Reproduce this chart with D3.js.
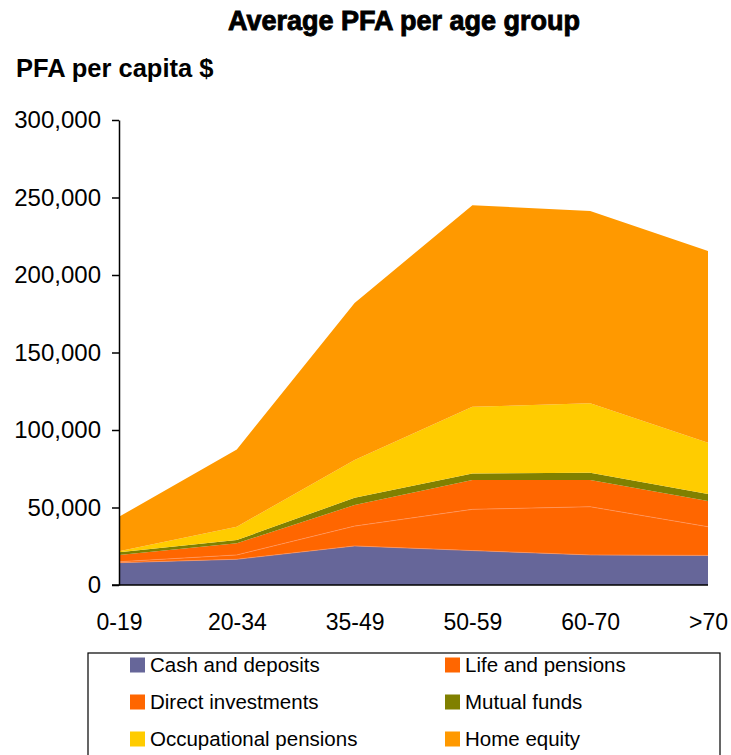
<!DOCTYPE html>
<html>
<head>
<meta charset="utf-8">
<script src="https://cdn.jsdelivr.net/npm/d3@7"></script>
<style>
  html, body { margin: 0; padding: 0; background: #fff; }
  svg { display: block; }
  text { font-family: "Liberation Sans", Arial, sans-serif; }
</style>
</head>
<body>
<svg id="chart" width="731" height="755"></svg>
<script>
// ---- Data ----
const categories = ["0-19", "20-34", "35-49", "50-59", "60-70", ">70"];
const seriesNames = ["Cash and deposits", "Life and pensions", "Direct investments", "Mutual funds", "Occupational pensions", "Home equity"];
const cashDeposits   = [14400, 16600, 25200, 22200, 19400, 19100];
const lifePensions   = [600, 2800, 12800, 26600, 31100, 18500];
const directInvest   = [4400, 7500, 13600, 18900, 17200, 16600];
const mutualFunds    = [1700, 2100, 4700, 4300, 4800, 4500];
const occupational   = [600, 8600, 24300, 43000, 44700, 33100];
const homeEquity     = [22300, 49900, 101400, 130000, 124100, 123700];
const yTicks = [0, 50000, 100000, 150000, 200000, 250000, 300000];
const colors = ["#666699", "#FF6600", "#FF6600", "#808000", "#FFCC00", "#FF9900"];

const seriesValues = [cashDeposits, lifePensions, directInvest, mutualFunds, occupational, homeEquity];
const rows = categories.map((c, i) => {
  const r = { cat: c };
  seriesNames.forEach((s, k) => r[s] = seriesValues[k][i]);
  return r;
});

const svg = d3.select("#chart");

const x = d3.scalePoint().domain(categories).range([119, 708]);
const y = d3.scaleLinear().domain([0, 300000]).range([585, 120]);

const stack = d3.stack().keys(seriesNames).order(d3.stackOrderNone).offset(d3.stackOffsetNone);
const layers = stack(rows);

const area = d3.area()
  .x(d => x(d.data.cat))
  .y0(d => y(d[0]))
  .y1(d => y(d[1]));

svg.append("g").selectAll("path")
  .data(layers)
  .join("path")
  .attr("d", area)
  .attr("fill", (d, i) => colors[i]);

// faint seam lines between the lower layers
const seam = d3.line().x(d => x(d.data.cat)).y(d => y(d[1]));
[0, 1].forEach(i => {
  svg.append("path")
    .attr("d", seam(layers[i]))
    .attr("fill", "none")
    .attr("stroke", "#FF9966")
    .attr("stroke-width", 0.8)
    .attr("opacity", 0.8);
});

// ---- Axes ----
const yAxis = d3.axisLeft(y).tickValues(yTicks).tickSize(7).tickSizeOuter(0)
  .tickFormat(d3.format(","));
const gy = svg.append("g").attr("transform", "translate(119,0)").call(yAxis);
gy.select(".domain").attr("stroke", "#000").attr("stroke-width", 1.5);
gy.selectAll(".tick line").attr("stroke", "#000").attr("stroke-width", 1.5);
gy.selectAll(".tick text")
  .attr("x", -18)
  .attr("font-size", 24)
  .attr("font-family", "Liberation Sans, Arial, sans-serif")
  .attr("fill", "#000");

const xAxis = d3.axisBottom(x).tickSize(0).tickSizeOuter(0);
const gx = svg.append("g").attr("transform", "translate(0,585)").call(xAxis);
gx.select(".domain").attr("stroke", "#000").attr("stroke-width", 1.5)
  .attr("d", "M112,0H708");
gx.selectAll(".tick text")
  .attr("y", 29)
  .attr("dy", "0.71em")
  .attr("font-size", 23)
  .attr("font-family", "Liberation Sans, Arial, sans-serif")
  .attr("fill", "#000");

// ---- Titles ----
svg.append("text")
  .attr("x", 404).attr("y", 30)
  .attr("text-anchor", "middle")
  .attr("font-size", 27)
  .attr("font-weight", "bold")
  .attr("stroke", "#000").attr("stroke-width", 0.9)
  .text("Average PFA per age group");

svg.append("text")
  .attr("x", 16).attr("y", 77)
  .attr("font-size", 25.5)
  .attr("font-weight", "bold")
  .text("PFA per capita $");

// ---- Legend ----
const lg = svg.append("g");
lg.append("rect")
  .attr("x", 88).attr("y", 653).attr("width", 632).attr("height", 120)
  .attr("fill", "#fff").attr("stroke", "#000").attr("stroke-width", 1.2);

const legendPos = [
  [130, 665], [445, 665],
  [130, 702], [445, 702],
  [130, 739], [445, 739]
];
seriesNames.forEach((s, i) => {
  const [lx, ly] = legendPos[i];
  lg.append("rect")
    .attr("x", lx).attr("y", ly - 7.5).attr("width", 15).attr("height", 15)
    .attr("fill", colors[i]);
  lg.append("text")
    .attr("x", lx + 20).attr("y", ly)
    .attr("dy", "0.35em")
    .attr("font-size", 20.5)
    .attr("fill", "#000")
    .text(s);
});
</script>
</body>
</html>
